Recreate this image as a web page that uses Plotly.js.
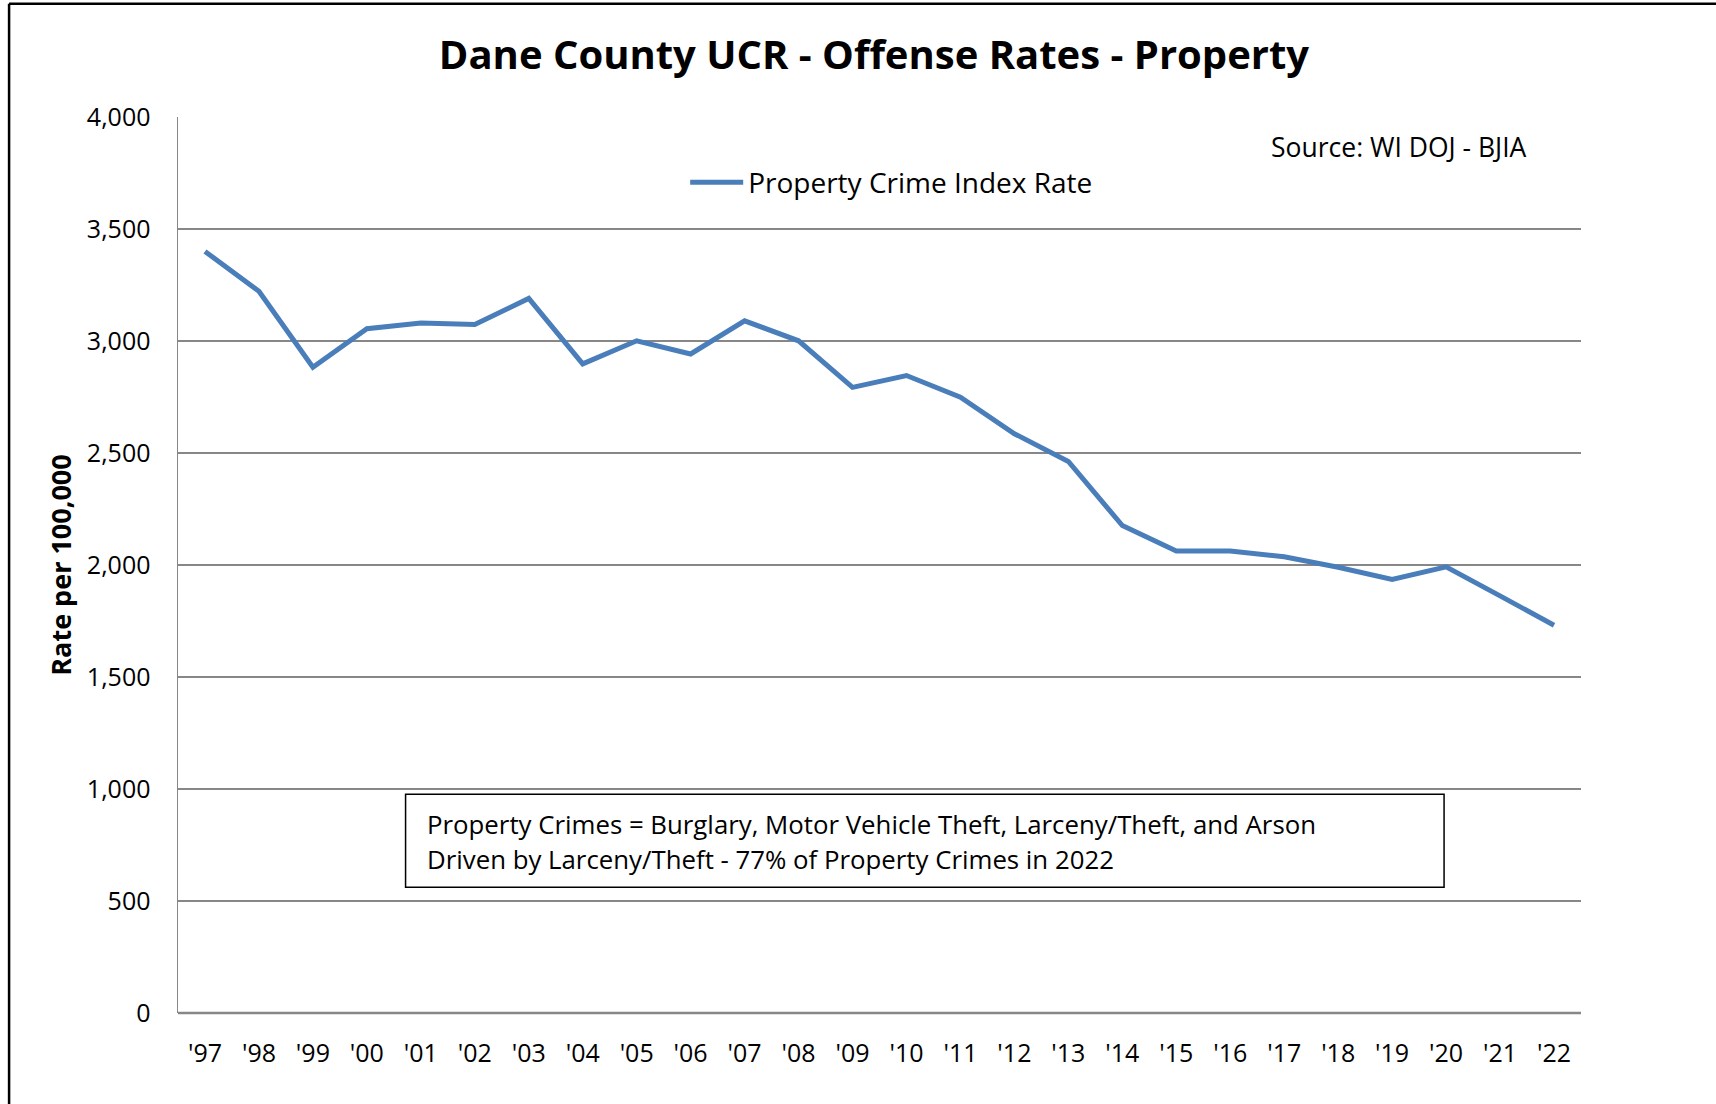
<!DOCTYPE html>
<html>
<head>
<meta charset="utf-8">
<script src="https://cdn.plot.ly/plotly-3.0.1.min.js"></script>
<style>
html,body{margin:0;padding:0;background:#fff;}
#chart{width:1716px;height:1104px;}
</style>
</head>
<body>
<div id="chart"></div>
<script>
const years = ["'97","'98","'99","'00","'01","'02","'03","'04","'05","'06","'07","'08","'09","'10","'11","'12","'13","'14","'15","'16","'17","'18","'19","'20","'21","'22"];
const propertyRate = [3400,3222,2883,3055,3080,3074,3190,2898,3001,2942,3090,3001,2793,2846,2749,2586,2462,2176,2062,2062,2037,1990,1936,1992,1862,1731];
const seriesName = "Property Crime Index Rate";
const chartTitle = "Dane County UCR - Offense Rates - Property";
const yTitle = "Rate per 100,000";
const sourceText = "Source: WI DOJ - BJIA";
const noteLine1 = "Property Crimes = Burglary, Motor Vehicle Theft, Larceny/Theft, and Arson";
const noteLine2 = "Driven by Larceny/Theft - 77% of Property Crimes in 2022";
const yTicks = [0,500,1000,1500,2000,2500,3000,3500,4000];

const FONT = "Open Sans, Noto Sans, sans-serif";

const trace = {
  x: years, y: propertyRate, type: 'scatter', mode: 'lines', name: seriesName,
  line: {color: '#4a7ebb', width: 5}
};

const layout = {
  width: 1716, height: 1104,
  paper_bgcolor: '#fff', plot_bgcolor: '#fff',
  margin: {l: 178.4, r: 134.5, t: 117.3, b: 90.7, pad: 0},
  font: {family: FONT, color: '#000', size: 25},
  title: {text: '<b>' + chartTitle + '</b>', x: 0.5093, xanchor: 'center', y: 0.950, yanchor: 'middle',
          font: {family: FONT, size: 40, color: '#000'}},
  showlegend: true,
  legend: {x: 0.3615, y: 0.9269, xanchor: 'left', yanchor: 'middle', bgcolor: 'rgba(0,0,0,0)',
           itemwidth: 53, font: {family: FONT, size: 28, color: '#000'}},
  xaxis: {
    type: 'category', range: [-0.5, 25.5], showgrid: false, zeroline: false,
    showline: false, ticks: '', tickfont: {family: FONT, size: 25, color: '#000'},
    ticklabelstandoff: 23, fixedrange: true
  },
  yaxis: {
    range: [0, 4000], tickvals: yTicks, ticktext: yTicks.map(v => v.toLocaleString('en-US')),
    showgrid: true, gridcolor: '#878787', gridwidth: 1.5, zeroline: false,
    showline: true, linecolor: '#878787', linewidth: 1.5, ticks: '',
    tickfont: {family: FONT, size: 25, color: '#000'}, ticklabelstandoff: 21,
    title: {text: '<b>' + yTitle + '</b>', standoff: 7, font: {family: FONT, size: 27, color: '#000'}},
    automargin: false, fixedrange: true
  },
  shapes: [
    {type: 'line', xref: 'paper', yref: 'paper', x0: 0, x1: 1, y0: 0, y1: 0, line: {color: '#878787', width: 2.5}},
    {type: 'rect', xref: 'paper', yref: 'paper', x0: 0.1622, x1: 0.9024, y0: 0.1403, y1: 0.2442,
     line: {color: '#000', width: 1.5}, fillcolor: 'rgba(0,0,0,0)'},
    {type: 'line', xref: 'paper', yref: 'paper', x0: -0.1204, x1: 1.2, y0: 1.1265, y1: 1.1265, line: {color: '#000', width: 2.5}},
    {type: 'line', xref: 'paper', yref: 'paper', x0: -0.1204, x1: -0.1204, y0: 1.1265, y1: -0.2, line: {color: '#000', width: 2.5}}
  ],
  annotations: [
    {text: sourceText, xref: 'paper', yref: 'paper', x: 0.7776, y: 0.9661, xanchor: 'left', yanchor: 'middle',
     showarrow: false, font: {family: FONT, size: 26.5, color: '#000'}},
    {text: noteLine1, xref: 'paper', yref: 'paper', x: 0.1763, y: 0.2113, xanchor: 'left', yanchor: 'middle',
     showarrow: false, font: {family: FONT, size: 25.8, color: '#000'}},
    {text: noteLine2, xref: 'paper', yref: 'paper', x: 0.1763, y: 0.1722, xanchor: 'left', yanchor: 'middle',
     showarrow: false, font: {family: FONT, size: 25.8, color: '#000'}}
  ]
};

Plotly.newPlot('chart', [trace], layout, {displayModeBar: false, staticPlot: true});
</script>
</body>
</html>
